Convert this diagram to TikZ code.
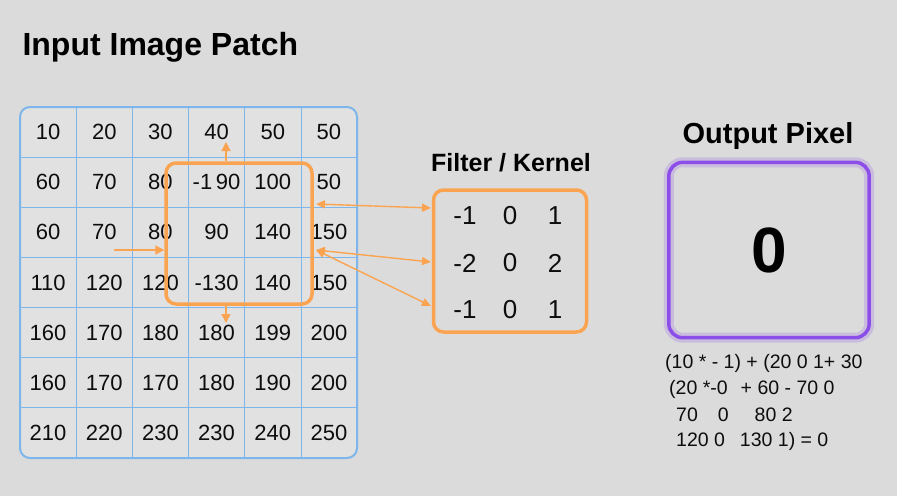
\documentclass[tikz,border=0pt]{standalone}
\usepackage{fontspec}
\setmainfont{Liberation Sans}
\usetikzlibrary{arrows.meta}
\definecolor{bgray}{RGB}{219,219,219}
\definecolor{cellgray}{RGB}{225,225,225}
\definecolor{gridblue}{RGB}{125,182,235}
\definecolor{winorange}{RGB}{250,164,82}
\definecolor{outpurple}{RGB}{140,78,232}
\begin{document}
\begin{tikzpicture}[x=1pt, y=-1pt,
    cell/.style={font=\fontsize{22}{26}\selectfont, text=black!95},
    kcell/.style={font=\fontsize{26}{30}\selectfont, text=black!95},
    ttl/.style={font=\bfseries\fontsize{28}{32}\selectfont, text=black},
    frm/.style={anchor=west, font=\fontsize{19.5}{23}\selectfont, text=black!95, inner sep=0pt},
    box/.style={draw=#1, line width=3.5pt, rounded corners=10pt},
    warr/.style={winorange, line width=1.4pt, -{Triangle[length=9pt,width=9pt]}},
    karr/.style={winorange, line width=1.4pt, {Triangle[length=9pt,width=8pt]}-{Triangle[length=9pt,width=8pt]}}]
    \useasboundingbox[fill=bgray] (0,0) rectangle (897,496);

    % input patch
    \node[ttl, anchor=west, font=\bfseries\fontsize{32}{36}\selectfont] (intitle) at (19,47) {Input Image Patch};
    \fill[cellgray, rounded corners=10pt] (20,107) rectangle (357,458);
    \foreach \i in {1,...,5}
        \draw[gridblue, line width=0.7pt] ({20+\i*56.17},107) -- ({20+\i*56.17},458);
    \foreach \j in {1,...,6}
        \draw[gridblue, line width=0.7pt] (20,{107+\j*50.14}) -- (357,{107+\j*50.14});
    \draw[gridblue, line width=2pt, rounded corners=10pt] (20,107) rectangle (357,458);

    \foreach \r/\vals in {1/{10,20,30,40,50,50}, 2/{60,70,80,{-1\,90},100,50},
        3/{60,70,80,90,140,150}, 4/{110,120,120,{-130},140,150},
        5/{160,170,180,180,199,200}, 6/{160,170,170,180,190,200},
        7/{210,220,230,230,240,250}} {
        \foreach \v [count=\c] in \vals {
            \node[cell] (p\r-\c) at ({20+(\c-0.5)*56.17},{107+(\r-0.5)*50.14}) {\v};
        }
    }

    % sliding window
    \node[box=winorange, minimum width=146pt, minimum height=141pt] (win) at (239,233.5) {};
    \coordinate (wtop) at (226,142);
    \coordinate (wbot) at (226,323);
    \coordinate (lin) at (114,250);
    \draw[warr] (win.north -| wtop) -- (wtop);
    \draw[warr] (win.south -| wbot) -- (wbot);
    \draw[warr] (lin) -- (win.west |- lin);

    % kernel
    \node[ttl, font=\bfseries\fontsize{25}{29}\selectfont] (ktitle) at (511,163) {Filter / Kernel};
    \node[box=winorange, minimum width=153pt, minimum height=142pt] (kernel) at (510,261) {};
    \foreach \r/\vals in {1/{-1,0,1}, 2/{-2,0,2}, 3/{-1,0,1}} {
        \foreach \v [count=\c] in \vals {
            \node[kcell] (k\r-\c) at ({420+\c*45},{169+\r*47}) {\v};
        }
    }

    \coordinate (w1) at (316,204);
    \coordinate (w2) at (316,250);
    \coordinate (k1) at (431,208);
    \coordinate (k2) at (431,262);
    \coordinate (k3) at (431,306);
    \draw[karr] (w1) -- (k1);
    \draw[karr] (w2) -- (k2);
    \draw[karr] (w2) -- (k3);

    % output
    \node[ttl, font=\bfseries\fontsize{29}{33}\selectfont] (otitle) at (768,136) {Output Pixel};
    \node[minimum width=200pt, minimum height=175pt, font=\bfseries\fontsize{64}{70}\selectfont] (outbox) at (769,250) {0};
    \draw[outpurple, opacity=0.22, line width=10pt, rounded corners=14pt] (outbox.south west) rectangle (outbox.north east);
    \draw[outpurple, line width=3.5pt, rounded corners=14pt] (outbox.south west) rectangle (outbox.north east);

    \node[frm] (f1) at (665,363) {(10 * - 1) + (20 0 1+ 30};
    \node[frm] (f2) at (669,389) {(20 *-0\hspace{13pt}+ 60 - 70 0};
    \node[frm] (f3) at (676,415) {70\hspace{20pt}0\hspace{26pt}80 2};
    \node[frm] (f4) at (676,441) {120 0\hspace{15pt}130 1) = 0};
\end{tikzpicture}
\end{document}
